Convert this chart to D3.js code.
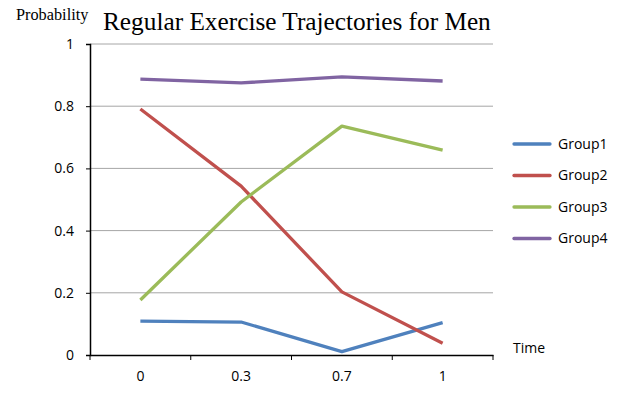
<!DOCTYPE html>
<html><head><meta charset="utf-8">
<script src="https://cdn.jsdelivr.net/npm/d3@7"></script>
<style>body{margin:0;background:#fff}</style>
</head><body>
<svg id="c" width="626" height="394"></svg>
<script>
const categories = ["0", "0.3", "0.7", "1"];
const seriesNames = ["Group1", "Group2", "Group3", "Group4"];
const group1 = [0.109, 0.106, 0.011, 0.104];
const group2 = [0.791, 0.543, 0.203, 0.038];
const group3 = [0.177, 0.492, 0.736, 0.659];
const group4 = [0.887, 0.875, 0.894, 0.881];
const colors = ["#4F81BD", "#C0504D", "#9BBB59", "#8064A2"];
const yTicks = [0, 0.2, 0.4, 0.6, 0.8, 1];

const series = [group1, group2, group3, group4];
const svg = d3.select("#c");
const L = 90, R = 493, T = 44, B = 355;
const x = d3.scaleBand().domain(categories).range([L, R]);
const y = d3.scaleLinear().domain([0, 1]).range([B, T]);
const sans = "'Open Sans', 'Noto Sans', sans-serif";
const fs = 14;

// gridlines
svg.append("g").selectAll("line").data(yTicks.filter(d => d > 0)).join("line")
  .attr("x1", L).attr("x2", R).attr("y1", d => y(d)).attr("y2", d => y(d))
  .attr("stroke", "#a6a6a6").attr("stroke-width", 1);

// y axis
const ya = svg.append("g").attr("transform", `translate(${L},0)`)
  .call(d3.axisLeft(y).tickValues(yTicks).tickFormat(d3.format("~g")).tickSize(4).tickPadding(12));
ya.select(".domain").attr("stroke", "#000").attr("stroke-width", 1.5);
ya.selectAll(".tick line").attr("stroke", "#000");
ya.selectAll("text").attr("font-family", sans).attr("font-size", fs).attr("fill", "#000");

// x axis
const xa = svg.append("g").attr("transform", `translate(0,${B})`)
  .call(d3.axisBottom(x).tickSize(0).tickPadding(16));
xa.select(".domain").attr("stroke", "#000").attr("stroke-width", 1.5);
xa.selectAll("text").attr("font-family", sans).attr("font-size", fs).attr("fill", "#000");
const bounds = categories.map(c => x(c)).concat([R]);
svg.append("g").selectAll("line").data(bounds).join("line")
  .attr("x1", d => d).attr("x2", d => d).attr("y1", B).attr("y2", B + 5)
  .attr("stroke", "#000").attr("stroke-width", 1);

// lines
const line = d3.line().x((d, i) => x(categories[i]) + x.bandwidth() / 2).y(d => y(d));
svg.append("g").selectAll("path").data(series).join("path")
  .attr("d", d => line(d)).attr("fill", "none")
  .attr("stroke", (d, i) => colors[i]).attr("stroke-width", 3.3).attr("stroke-linejoin", "round");

// legend
const lg = svg.append("g").selectAll("g").data(seriesNames).join("g")
  .attr("transform", (d, i) => `translate(514,${144 + i * 31.5})`);
lg.append("line").attr("x1", 0).attr("x2", 36).attr("stroke", (d, i) => colors[i])
  .attr("stroke-width", 3.3).attr("stroke-linecap", "round");
lg.append("text").attr("x", 44).attr("dy", "0.35em").text(d => d)
  .attr("font-family", sans).attr("font-size", fs);

// texts
svg.append("text").attr("x", 103).attr("y", 30).text("Regular Exercise Trajectories for Men")
  .attr("font-family", "'Liberation Serif', 'Times New Roman', serif").attr("font-size", 25.3);
svg.append("text").attr("x", 16).attr("y", 20).text("Probability")
  .attr("font-family", "'Liberation Serif', 'Times New Roman', serif").attr("font-size", 16.3);
svg.append("text").attr("x", 513).attr("y", 353).text("Time")
  .attr("font-family", sans).attr("font-size", fs);
</script>
</body></html>
